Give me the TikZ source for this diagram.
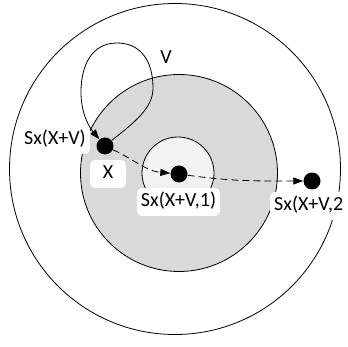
\documentclass[tikz,border=0pt]{standalone}
\usepackage{fontspec}
\setmainfont{Carlito}
\usetikzlibrary{arrows.meta}
\definecolor{midgray}{HTML}{D9D9D9}
\definecolor{palegray}{HTML}{F2F2F2}
\begin{document}
\begin{tikzpicture}[x=1pt,y=-1pt,
  ring/.style={draw=black,line width=0.8pt},
  dot/.style={circle,fill=black,inner sep=0pt,minimum size=17pt},
  lbl/.style={fill=white,rounded corners=5pt,inner xsep=4pt,inner ysep=4pt,text height=15pt,text depth=5pt,font=\fontsize{20}{24}\selectfont},
  conn/.style={line width=0.8pt,-{Triangle[length=10pt,width=7pt]}},
  dsh/.style={dash pattern=on 7pt off 4pt},
]
\useasboundingbox (0,0) rectangle (348,347);
\draw[ring,fill=white] (175,169) circle[radius=165.5pt];
\draw[ring,fill=midgray] (179,173) circle[radius=98.5pt];
\draw[ring,fill=palegray] (178,173) circle[radius=36pt];
\node[dot] (X) at (105,146) {};
\node[dot] (d1) at (179,174) {};
\node[dot] (d2) at (312,181) {};
\draw[conn] (X.40) .. controls (135,122) and (153,108) .. (153,88)
  .. controls (153,60) and (140,43) .. (117,43)
  .. controls (92,43) and (81,65) .. (81,92)
  .. controls (81,115) and (90,128) .. (X.130);
\draw[conn,dsh] (X) to[out=-25,in=175] (d1);
\draw[conn,dsh] (d1) to[out=-8,in=180] (d2);
\node[lbl,anchor=east] (lx) at (90,140) {Sx(X+V)};
\node[lbl,minimum width=36pt,minimum height=28pt] (lX) at (108,174) {X};
\node[lbl] (l1) at (178.5,202) {Sx(X+V,1)};
\node[lbl,anchor=west] (l2) at (270,206) {Sx(X+V,2};
\node[font=\fontsize{20}{24}\selectfont] (lv) at (166,57) {V};
\end{tikzpicture}
\end{document}
